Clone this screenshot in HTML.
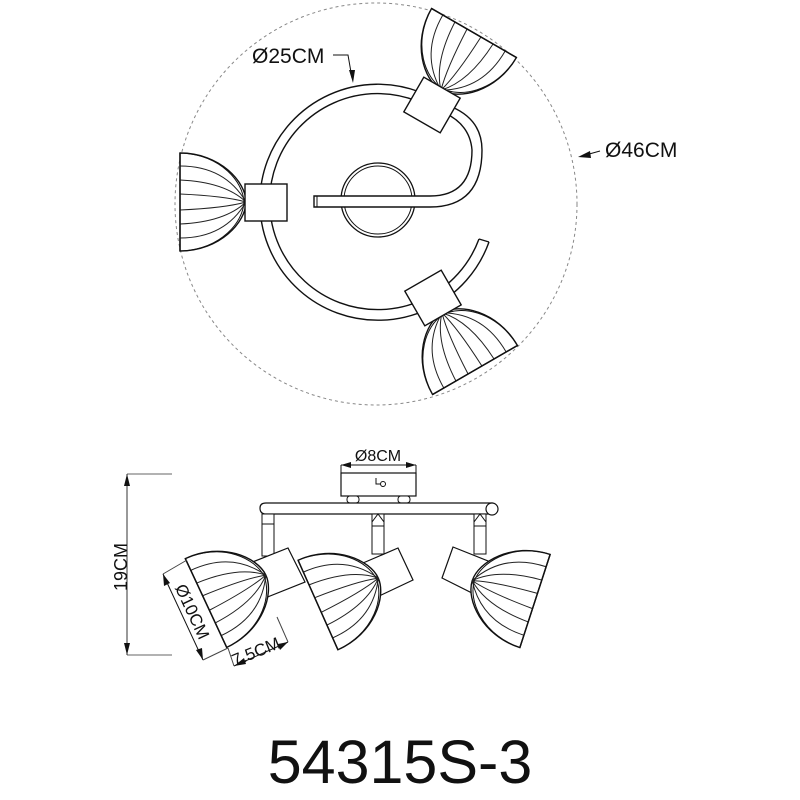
<!DOCTYPE html>
<html><head><meta charset="utf-8"><style>html,body{margin:0;padding:0;background:#fff}svg{display:block}</style></head>
<body>
<svg width="800" height="800" viewBox="0 0 800 800" xmlns="http://www.w3.org/2000/svg">
<defs>
<g id="shade">
<path d="M0,-49 C40,-49 66,-20 66,0 C66,20 40,49 0,49 Z" fill="#fff" stroke="#111" stroke-width="1.4"/>
<path d="M3,-49 C42,-46 63,-20 64,0 C63,20 42,46 3,49" fill="none" stroke="#111" stroke-width="1"/>
<g fill="none" stroke="#222" stroke-width="1">
<path d="M0,-36 Q45,-36 66,0"/><path d="M0,-22 Q45,-20 66,0"/><path d="M0,-8 Q45,-6 66,0"/>
<path d="M0,8 Q45,6 66,0"/><path d="M0,22 Q45,20 66,0"/><path d="M0,36 Q45,36 66,0"/>
</g>
<line x1="0" y1="-49" x2="0" y2="49" stroke="#111" stroke-width="1.4"/>
</g>
</defs>
<g font-family="Liberation Sans, Arial, sans-serif" fill="#111">
<circle cx="376" cy="204" r="201" fill="none" stroke="#888" stroke-width="1" stroke-dasharray="3,3"/>
<path d="M420,92 A118,118 0 1 0 489,242" fill="none" stroke="#111" stroke-width="1.4"/>
<path d="M417,101 A108,108 0 1 0 479,239" fill="none" stroke="#111" stroke-width="1.4"/>
<path d="M479,239 L489,242" stroke="#111" stroke-width="1.2"/>
<circle cx="378" cy="200" r="37" fill="none" stroke="#111" stroke-width="1.3"/>
<circle cx="378" cy="200" r="34" fill="none" stroke="#111" stroke-width="1"/>
<path d="M314,196 L430,196 Q472,196 472,150 Q470,125 445,113 L452,107 Q482,120 482,150 Q482,207 430,207 L314,207 Z" fill="#fff" stroke="#111" stroke-width="1.4"/>
<line x1="317" y1="196" x2="317" y2="207" stroke="#111"/>
<use href="#shade" transform="translate(180,202) rotate(0)"/>
<rect x="245" y="184" width="42" height="37" fill="#fff" stroke="#111" stroke-width="1.4"/>
<use href="#shade" transform="translate(474,33) rotate(120)"/>
<rect x="-21" y="-20" width="42" height="40" fill="#fff" stroke="#111" stroke-width="1.4" transform="translate(432,105) rotate(30)"/>
<use href="#shade" transform="translate(475,370) rotate(-120)"/>
<rect x="-21" y="-20" width="42" height="40" fill="#fff" stroke="#111" stroke-width="1.4" transform="translate(433,298) rotate(-30)"/>
<text x="252" y="63" font-size="21">Ø25CM</text>
<path d="M333,55 L348,55 L352,78" fill="none" stroke="#111" stroke-width="1"/>
<path d="M349,70 L353,83 L355,70 Z" fill="#111"/>
<text x="605" y="157" font-size="21">Ø46CM</text>
<line x1="600" y1="151" x2="582" y2="156" stroke="#111"/>
<path d="M578,157 L590,151 L591,158 Z" fill="#111"/>

<line x1="127" y1="474" x2="172" y2="474" stroke="#666"/>
<line x1="127" y1="655" x2="172" y2="655" stroke="#666"/>
<line x1="127" y1="474" x2="127" y2="655" stroke="#333"/>
<path d="M127,474 L124,486 L130,486 Z M127,655 L124,643 L130,643 Z" fill="#111"/>
<text transform="translate(127,567) rotate(-90)" font-size="18" text-anchor="middle">19CM</text>

<rect x="341" y="473" width="75" height="23" fill="#fff" stroke="#111" stroke-width="1.2"/>
<line x1="341" y1="465" x2="416" y2="465" stroke="#111"/>
<path d="M341,465 L351,462 L351,468 Z M416,465 L406,462 L406,468 Z" fill="#111"/>
<line x1="341" y1="465" x2="341" y2="473" stroke="#111"/>
<line x1="416" y1="465" x2="416" y2="473" stroke="#111"/>
<text x="378" y="461" font-size="16" text-anchor="middle">Ø8CM</text>
<path d="M376,478 L376,484 L381,484" fill="none" stroke="#111"/>
<circle cx="383" cy="484" r="2.5" fill="none" stroke="#111"/>
<rect x="347" y="496" width="12" height="7" rx="3" fill="#fff" stroke="#111"/>
<rect x="398" y="496" width="12" height="7" rx="3" fill="#fff" stroke="#111"/>
<path d="M266,503 L492,503 L492,514 L266,514 Q260,514 260,508 Q260,503 266,503 Z" fill="#fff" stroke="#111" stroke-width="1.2"/>
<circle cx="492" cy="509" r="6" fill="#fff" stroke="#111" stroke-width="1.2"/>
<rect x="262" y="514" width="12" height="42" fill="#fff" stroke="#111"/>
<line x1="262" y1="524" x2="274" y2="524" stroke="#111"/>
<rect x="372" y="514" width="12" height="40" fill="#fff" stroke="#111"/>
<path d="M372,522 L378,514 L384,522 M372,526 L384,526" fill="none" stroke="#111"/>
<rect x="474" y="514" width="12" height="40" fill="#fff" stroke="#111"/>
<path d="M474,522 L480,514 L486,522 M474,526 L486,526" fill="none" stroke="#111"/>

<polygon points="250,563 288,548 305,582 265,598" fill="#fff" stroke="#111" stroke-width="1.2"/>
<polygon points="363,563 398,548 413,580 377,597" fill="#fff" stroke="#111" stroke-width="1.2"/>
<polygon points="453,547 493,563 480,597 442,578" fill="#fff" stroke="#111" stroke-width="1.2"/>
<use href="#shade" transform="translate(206,603) rotate(-25)"/>
<use href="#shade" transform="translate(318,605) rotate(-24)"/>
<use href="#shade" transform="translate(535,601) rotate(198)"/>

<line x1="163" y1="574" x2="203" y2="660" stroke="#111"/>
<path d="M163,574 L164,586 L170,583 Z M203,660 L196,650 L202,648 Z" fill="#111"/>
<line x1="163" y1="574" x2="187" y2="560" stroke="#444"/>
<line x1="203" y1="660" x2="228" y2="648" stroke="#444"/>
<text transform="translate(187,614) rotate(65)" font-size="17" text-anchor="middle">Ø10CM</text>
<line x1="234" y1="666" x2="288" y2="642" stroke="#111"/>
<path d="M234,666 L244,658 L246,664 Z M288,642 L278,644 L280,650 Z" fill="#111"/>
<line x1="228" y1="648" x2="234" y2="666" stroke="#444"/>
<line x1="277" y1="617" x2="288" y2="642" stroke="#444"/>
<text transform="translate(258,657) rotate(-22)" font-size="17" text-anchor="middle">7.5CM</text>

<text x="400" y="783" font-size="61" text-anchor="middle">54315S-3</text>
</g>
</svg>
</body></html>
